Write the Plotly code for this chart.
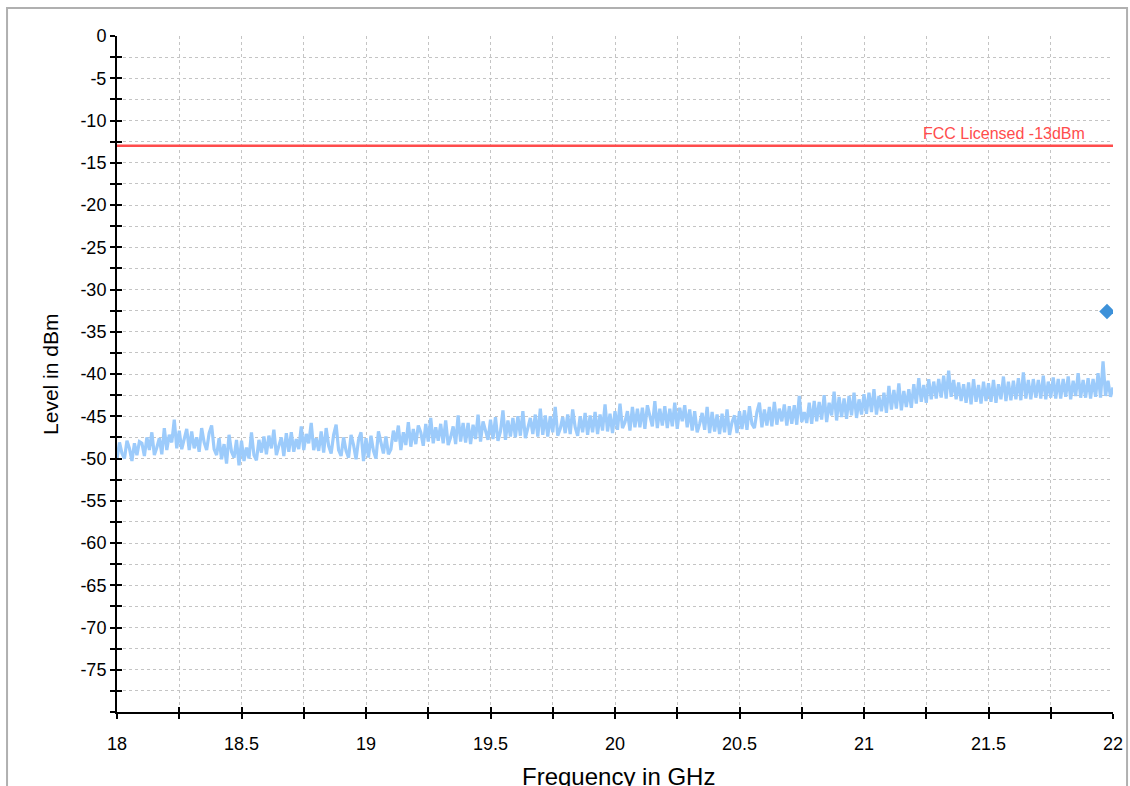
import numpy as np
import plotly.graph_objects as go

# Measured spurious level, 18 - 22 GHz sweep, one row per 0.1 GHz (10 samples each)
level_dbm = [
    -50.1, -48.1, -49.4, -50.0, -47.9, -48.8, -50.3, -48.2, -49.6, -48.0,
    -48.2, -49.7, -47.5, -49.0, -46.9, -49.6, -48.7, -47.6, -49.5, -46.4,
    -49.0, -47.2, -48.1, -45.4, -48.8, -46.7, -48.9, -47.6, -46.5, -49.0,
    -46.8, -48.8, -47.5, -49.2, -46.4, -48.1, -49.0, -47.0, -46.1, -48.9,
    -49.6, -47.6, -50.1, -48.3, -50.6, -47.2, -49.2, -49.9, -47.8, -50.8,
    -47.9, -50.3, -48.7, -50.0, -46.9, -49.6, -50.2, -47.8, -49.3, -47.4,
    -49.5, -47.3, -48.8, -46.6, -49.6, -48.5, -47.5, -49.7, -47.0, -49.2,
    -46.9, -49.2, -47.7, -48.9, -46.2, -49.0, -47.1, -48.2, -45.8, -49.0,
    -47.6, -49.1, -46.8, -49.3, -46.4, -48.5, -49.4, -47.2, -46.0, -49.0,
    -49.7, -47.5, -49.1, -49.9, -47.2, -48.4, -50.1, -47.8, -46.9, -50.3,
    -47.6, -49.9, -47.3, -49.1, -50.0, -46.8, -48.2, -49.4, -47.4, -49.5,
    -48.9, -46.7, -48.0, -46.1, -49.0, -46.9, -48.4, -45.7, -48.6, -46.5,
    -48.3, -46.1, -46.9, -48.5, -45.9, -48.0, -45.2, -48.2, -46.3, -47.9,
    -45.9, -48.2, -45.5, -48.4, -47.5, -46.2, -48.3, -44.9, -48.0, -45.8,
    -48.1, -45.8, -48.3, -46.0, -47.7, -44.8, -48.0, -45.6, -46.7, -47.8,
    -45.4, -47.7, -45.1, -47.9, -46.8, -44.3, -47.8, -45.5, -47.4, -45.2,
    -47.5, -45.0, -47.3, -44.4, -47.6, -46.2, -45.2, -47.1, -44.8, -47.4,
    -44.1, -47.2, -44.9, -47.4, -45.0, -46.9, -43.9, -47.3, -46.5, -45.1,
    -47.0, -44.8, -47.1, -44.2, -46.3, -47.3, -45.0, -46.9, -44.6, -47.2,
    -44.9, -46.9, -44.5, -47.1, -44.8, -46.7, -43.6, -46.8, -44.7, -47.0,
    -44.4, -46.6, -43.5, -46.4, -45.7, -44.4, -46.7, -43.9, -46.3, -44.1,
    -46.3, -44.0, -46.5, -43.7, -45.0, -46.2, -43.2, -46.4, -44.1, -46.1,
    -43.8, -46.4, -44.1, -46.2, -43.4, -46.5, -44.0, -45.6, -43.7, -46.3,
    -44.2, -46.7, -44.4, -46.9, -45.9, -44.6, -46.6, -43.9, -47.0, -44.5,
    -46.8, -44.8, -47.1, -44.7, -46.9, -44.2, -47.2, -45.7, -44.9, -47.0,
    -44.4, -46.5, -44.3, -46.6, -43.8, -45.9, -46.4, -44.5, -43.4, -46.3,
    -44.2, -46.1, -43.9, -46.2, -43.3, -46.0, -44.1, -45.6, -43.6, -46.1,
    -43.8, -45.9, -43.7, -46.0, -42.6, -45.7, -44.5, -45.8, -43.4, -45.9,
    -43.2, -45.6, -43.3, -45.4, -42.5, -45.7, -43.4, -44.9, -42.1, -45.5,
    -42.7, -45.1, -42.9, -45.3, -42.6, -44.9, -42.2, -45.2, -43.0, -44.8,
    -42.4, -44.7, -42.2, -44.5, -41.8, -44.8, -42.6, -44.4, -42.2, -44.6,
    -41.4, -44.2, -41.9, -44.1, -41.1, -44.3, -42.0, -43.9, -41.8, -44.0,
    -41.2, -43.5, -40.5, -43.3, -41.3, -43.4, -40.6, -43.0, -40.9, -42.9,
    -40.6, -42.8, -40.2, -42.9, -39.6, -42.7, -40.7, -43.0, -41.0, -43.2,
    -41.2, -43.4, -41.0, -43.6, -40.6, -43.3, -41.3, -43.5, -40.9, -43.2,
    -41.1, -43.3, -40.7, -43.4, -41.2, -43.0, -40.3, -43.2, -40.9, -43.1,
    -40.8, -43.0, -40.5, -43.1, -39.8, -42.9, -40.7, -43.0, -40.6, -42.8,
    -40.7, -42.9, -40.2, -43.0, -40.9, -42.8, -40.4, -42.9, -40.6, -42.9,
    -40.6, -42.7, -40.3, -43.0, -40.8, -42.6, -39.9, -42.8, -40.7, -42.8,
    -40.5, -42.9, -40.6, -42.7, -39.9, -42.8, -38.5, -42.6, -40.8, -42.7,
    -41.6,
]
freq_start_ghz = 18.0
freq_stop_ghz = 22.0
freq_ghz = np.linspace(freq_start_ghz, freq_stop_ghz, len(level_dbm))

# Limit line and peak marker
fcc_limit_dbm = -13.0
fcc_limit_label = "FCC Licensed -13dBm"
peak_freq_ghz = [21.976]
peak_level_dbm = [-32.6]

# Axis tick labels
x_tick_values = [18, 18.5, 19, 19.5, 20, 20.5, 21, 21.5, 22]
x_tick_labels = ["18", "18.5", "19", "19.5", "20", "20.5", "21", "21.5", "22"]
y_tick_values = [0, -5, -10, -15, -20, -25, -30, -35, -40, -45, -50, -55, -60, -65, -70, -75]
y_tick_labels = ["0", "-5", "-10", "-15", "-20", "-25", "-30", "-35", "-40",
                 "-45", "-50", "-55", "-60", "-65", "-70", "-75"]

FONT = "Liberation Sans, Arial, sans-serif"
GRID = "#c4c4c4"

fig = go.Figure()

fig.add_trace(go.Scatter(
    x=freq_ghz, y=level_dbm, mode="lines",
    line=dict(color="#9ccbfb", width=3.2),
    showlegend=False, hoverinfo="skip",
))

fig.add_trace(go.Scatter(
    x=[freq_start_ghz, freq_stop_ghz], y=[fcc_limit_dbm, fcc_limit_dbm], mode="lines",
    line=dict(color="#ff4c4c", width=2.5),
    showlegend=False, hoverinfo="skip",
))

fig.add_trace(go.Scatter(
    x=peak_freq_ghz, y=peak_level_dbm, mode="markers",
    marker=dict(symbol="diamond", size=12, color="#3d91d9"),
    showlegend=False, hoverinfo="skip",
))

# empty trace so the overlay axes (inner half of the crossing ticks) are drawn
fig.add_trace(go.Scatter(x=[None], y=[None], xaxis="x2", yaxis="y2",
                         showlegend=False, hoverinfo="skip"))

axis_common = dict(
    showline=True, linecolor="black", linewidth=2, automargin=False,
    ticks="outside", ticklen=5, tickwidth=2, tickcolor="black",
    showgrid=True, gridcolor=GRID, gridwidth=1, griddash="dot",
    zeroline=False, tickfont=dict(family=FONT, size=18, color="black"),
)

fig.update_layout(
    width=1130, height=786,
    margin=dict(l=117, r=17, t=36, b=74),
    paper_bgcolor="white", plot_bgcolor="white",
    xaxis=dict(
        range=[freq_start_ghz, freq_stop_ghz],
        tickmode="array", tickvals=x_tick_values, ticktext=x_tick_labels,
        ticklabelstandoff=9,
        minor=dict(tick0=18, dtick=0.25, ticks="outside", ticklen=5, tickwidth=2,
                   tickcolor="black", showgrid=True, gridcolor=GRID, griddash="dot"),
        **axis_common,
    ),
    yaxis=dict(
        range=[-80, 0],
        tickmode="array", tickvals=y_tick_values, ticktext=y_tick_labels,
        minor=dict(tick0=0, dtick=2.5, ticks="outside", ticklen=5, tickwidth=2,
                   tickcolor="black", showgrid=True, gridcolor=GRID, griddash="dot"),
        **axis_common,
    ),
    xaxis2=dict(
        overlaying="x", anchor="y", side="bottom", range=[freq_start_ghz, freq_stop_ghz],
        tickmode="linear", tick0=18, dtick=0.25, ticks="inside", ticklen=5, tickwidth=2,
        tickcolor="black", showticklabels=False, showgrid=False, showline=False,
        zeroline=False, automargin=False,
    ),
    yaxis2=dict(
        overlaying="y", anchor="x", side="left", range=[-80, 0],
        tickmode="linear", tick0=0, dtick=2.5, ticks="inside", ticklen=5, tickwidth=2,
        tickcolor="black", showticklabels=False, showgrid=False, showline=False,
        zeroline=False, automargin=False,
    ),
    annotations=[
        dict(text=fcc_limit_label, x=21.895, y=fcc_limit_dbm, xref="x", yref="y",
             xanchor="right", yanchor="bottom", yshift=2, showarrow=False,
             font=dict(family=FONT, size=16, color="#ff4c4c")),
        dict(text="Level in dBm", x=-0.0673, y=0.5, xref="paper", yref="paper",
             textangle=-90, xanchor="center", yanchor="middle", showarrow=False,
             font=dict(family=FONT, size=21, color="black")),
        dict(text="Frequency in GHz", x=0.504, y=-0.095, xref="paper", yref="paper",
             xanchor="center", yanchor="middle", showarrow=False,
             font=dict(family=FONT, size=24, color="black")),
    ],
    shapes=[
        # outer frame around the chart
        dict(type="rect", xref="paper", yref="paper", x0=-0.1104, y0=-0.2, x1=1.0141, y1=1.0414,
             line=dict(color="#b0b0b0", width=2), fillcolor="rgba(0,0,0,0)", layer="below"),
    ],
)

fig.write_html("out.html")
